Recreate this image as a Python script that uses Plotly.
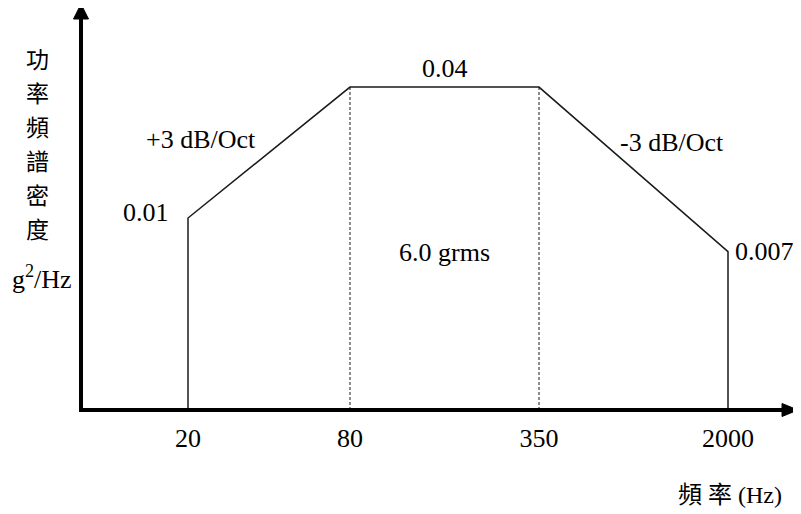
import numpy as np
import plotly.graph_objects as go

# vibration test profile (power spectral density)
freq_labels = ["20", "80", "350", "2000"]
psd = [0.01, 0.04, 0.04, 0.007]
psd_labels = ["0.01", "0.04", "0.007"]
slope_labels = ["+3 dB/Oct", "-3 dB/Oct"]
grms_label = "6.0 grms"
y_title_chars = list("功率頻譜密度")
y_unit = "g<sup>2</sup>/Hz"
x_title = "頻 率 (Hz)"

# schematic positions of the break frequencies (the sketch is not to scale)
x_pos = [1.0, 1.9, 2.95, 4.0]

OFF = 8                 # page body margin
W, H = 801 - OFF, 514 - OFF
L = 81 - OFF            # plot area starts at the axes origin
B = H - (410 - OFF)
SERIF = "Liberation Serif, Times New Roman, serif"
CJK = "Noto Sans CJK TC, Noto Sans CJK SC, sans-serif"

# scale of the sketch: 180 px per break, ~217 px per decade of psd
x_lo = 1.0 - (188 - 81) / 180
x_range = [x_lo, x_lo + (W - L) / 180]
y_lo = -2.0 - (410 - 218) / 217.4
y_range = [y_lo, y_lo + (H - B) / 217.4]
floor = 10 ** y_range[0]


# screen pixel -> paper coords (paper is the plot area, not the whole figure)
def px(x):
    return (x - OFF - L) / (W - L)


def py(y):
    return (H - B - (y - OFF)) / (H - B)


fig = go.Figure()

# profile outline, from the baseline up and back down
fig.add_trace(go.Scatter(
    x=[x_pos[0]] + x_pos + [x_pos[-1]],
    y=[floor] + psd + [floor],
    mode='lines', line=dict(color='#1a1a1a', width=1.5), hoverinfo='skip'))

# dashed guides under the flat part
for i in (1, 2):
    fig.add_trace(go.Scatter(
        x=[x_pos[i], x_pos[i]], y=[floor, psd[i]],
        mode='lines', line=dict(color='#1a1a1a', width=1, dash='3px,2px'),
        hoverinfo='skip'))

ann = []
txt = dict(family=SERIF, size=26, color='#000000')
ann.append(dict(x=x_pos[0], y=np.log10(psd[0]), text=psd_labels[0], xanchor='right',
                xshift=-17, yshift=6, font=txt))
ann.append(dict(x=(x_pos[1] + x_pos[2]) / 2, y=np.log10(psd[1]), text=psd_labels[1],
                yshift=19, font=txt))
ann.append(dict(x=x_pos[3], y=np.log10(psd[3]), text=psd_labels[2], xanchor='left',
                xshift=5, yshift=0, font=txt))
ann.append(dict(x=(x_pos[0] + x_pos[1]) / 2, y=(np.log10(psd[0]) + np.log10(psd[1])) / 2,
                text=slope_labels[0], xshift=-68, yshift=13, font=txt))
ann.append(dict(x=(x_pos[2] + x_pos[3]) / 2, y=(np.log10(psd[2]) + np.log10(psd[3])) / 2,
                text=slope_labels[1], xshift=38, yshift=27, font=txt))
ann.append(dict(x=(x_pos[1] + x_pos[2]) / 2, xref='x', y=py(252), yref='paper',
                text=grms_label, font=txt))

# vertical chinese axis title, one character per line
for k, ch in enumerate(y_title_chars):
    ann.append(dict(x=px(37), y=py(58 + 34 * k), xref='paper', yref='paper', text=ch,
                    font=dict(family=CJK, size=23, color='#000000')))
ann.append(dict(x=px(42), y=py(277), xref='paper', yref='paper', text=y_unit, font=txt))
ann.append(dict(x=px(730), y=py(495), xref='paper', yref='paper', text=x_title,
                font=dict(family=SERIF + ", " + CJK, size=24, color='#000000')))

for a in ann:
    a.setdefault('xref', 'x')
    a.setdefault('yref', 'y')
    a.setdefault('xanchor', 'center')
    a.setdefault('yanchor', 'middle')
    a['showarrow'] = False

# axes with arrow heads
shapes = [
    dict(type='line', xref='paper', yref='paper', x0=px(81), y0=py(411), x1=px(81), y1=py(16),
         line=dict(color='black', width=4)),
    dict(type='line', xref='paper', yref='paper', x0=px(79), y0=py(410), x1=px(786), y1=py(410),
         line=dict(color='black', width=4)),
    dict(type='path', xref='paper', yref='paper', fillcolor='black', line=dict(color='black', width=1),
         path=f"M {px(81)},{py(4)} L {px(73.5)},{py(19)} L {px(88.5)},{py(19)} Z"),
    dict(type='path', xref='paper', yref='paper', fillcolor='black', line=dict(color='black', width=1),
         path=f"M {px(798)},{py(410)} L {px(782)},{py(403.5)} L {px(782)},{py(416.5)} Z"),
]

fig.update_layout(
    width=W, height=H,
    margin=dict(l=L, r=0, t=0, b=B),
    paper_bgcolor='white', plot_bgcolor='white',
    showlegend=False,
    annotations=ann, shapes=shapes,
    xaxis=dict(range=x_range, showgrid=False, zeroline=False, showline=False,
               tickvals=x_pos, ticktext=freq_labels, ticks='', ticklabelstandoff=10,
               tickfont=dict(family=SERIF, size=26, color='#000000')),
    yaxis=dict(type='log', range=y_range, showgrid=False, zeroline=False, showline=False,
               showticklabels=False, ticks=''),
)

fig.write_html("out.html")
